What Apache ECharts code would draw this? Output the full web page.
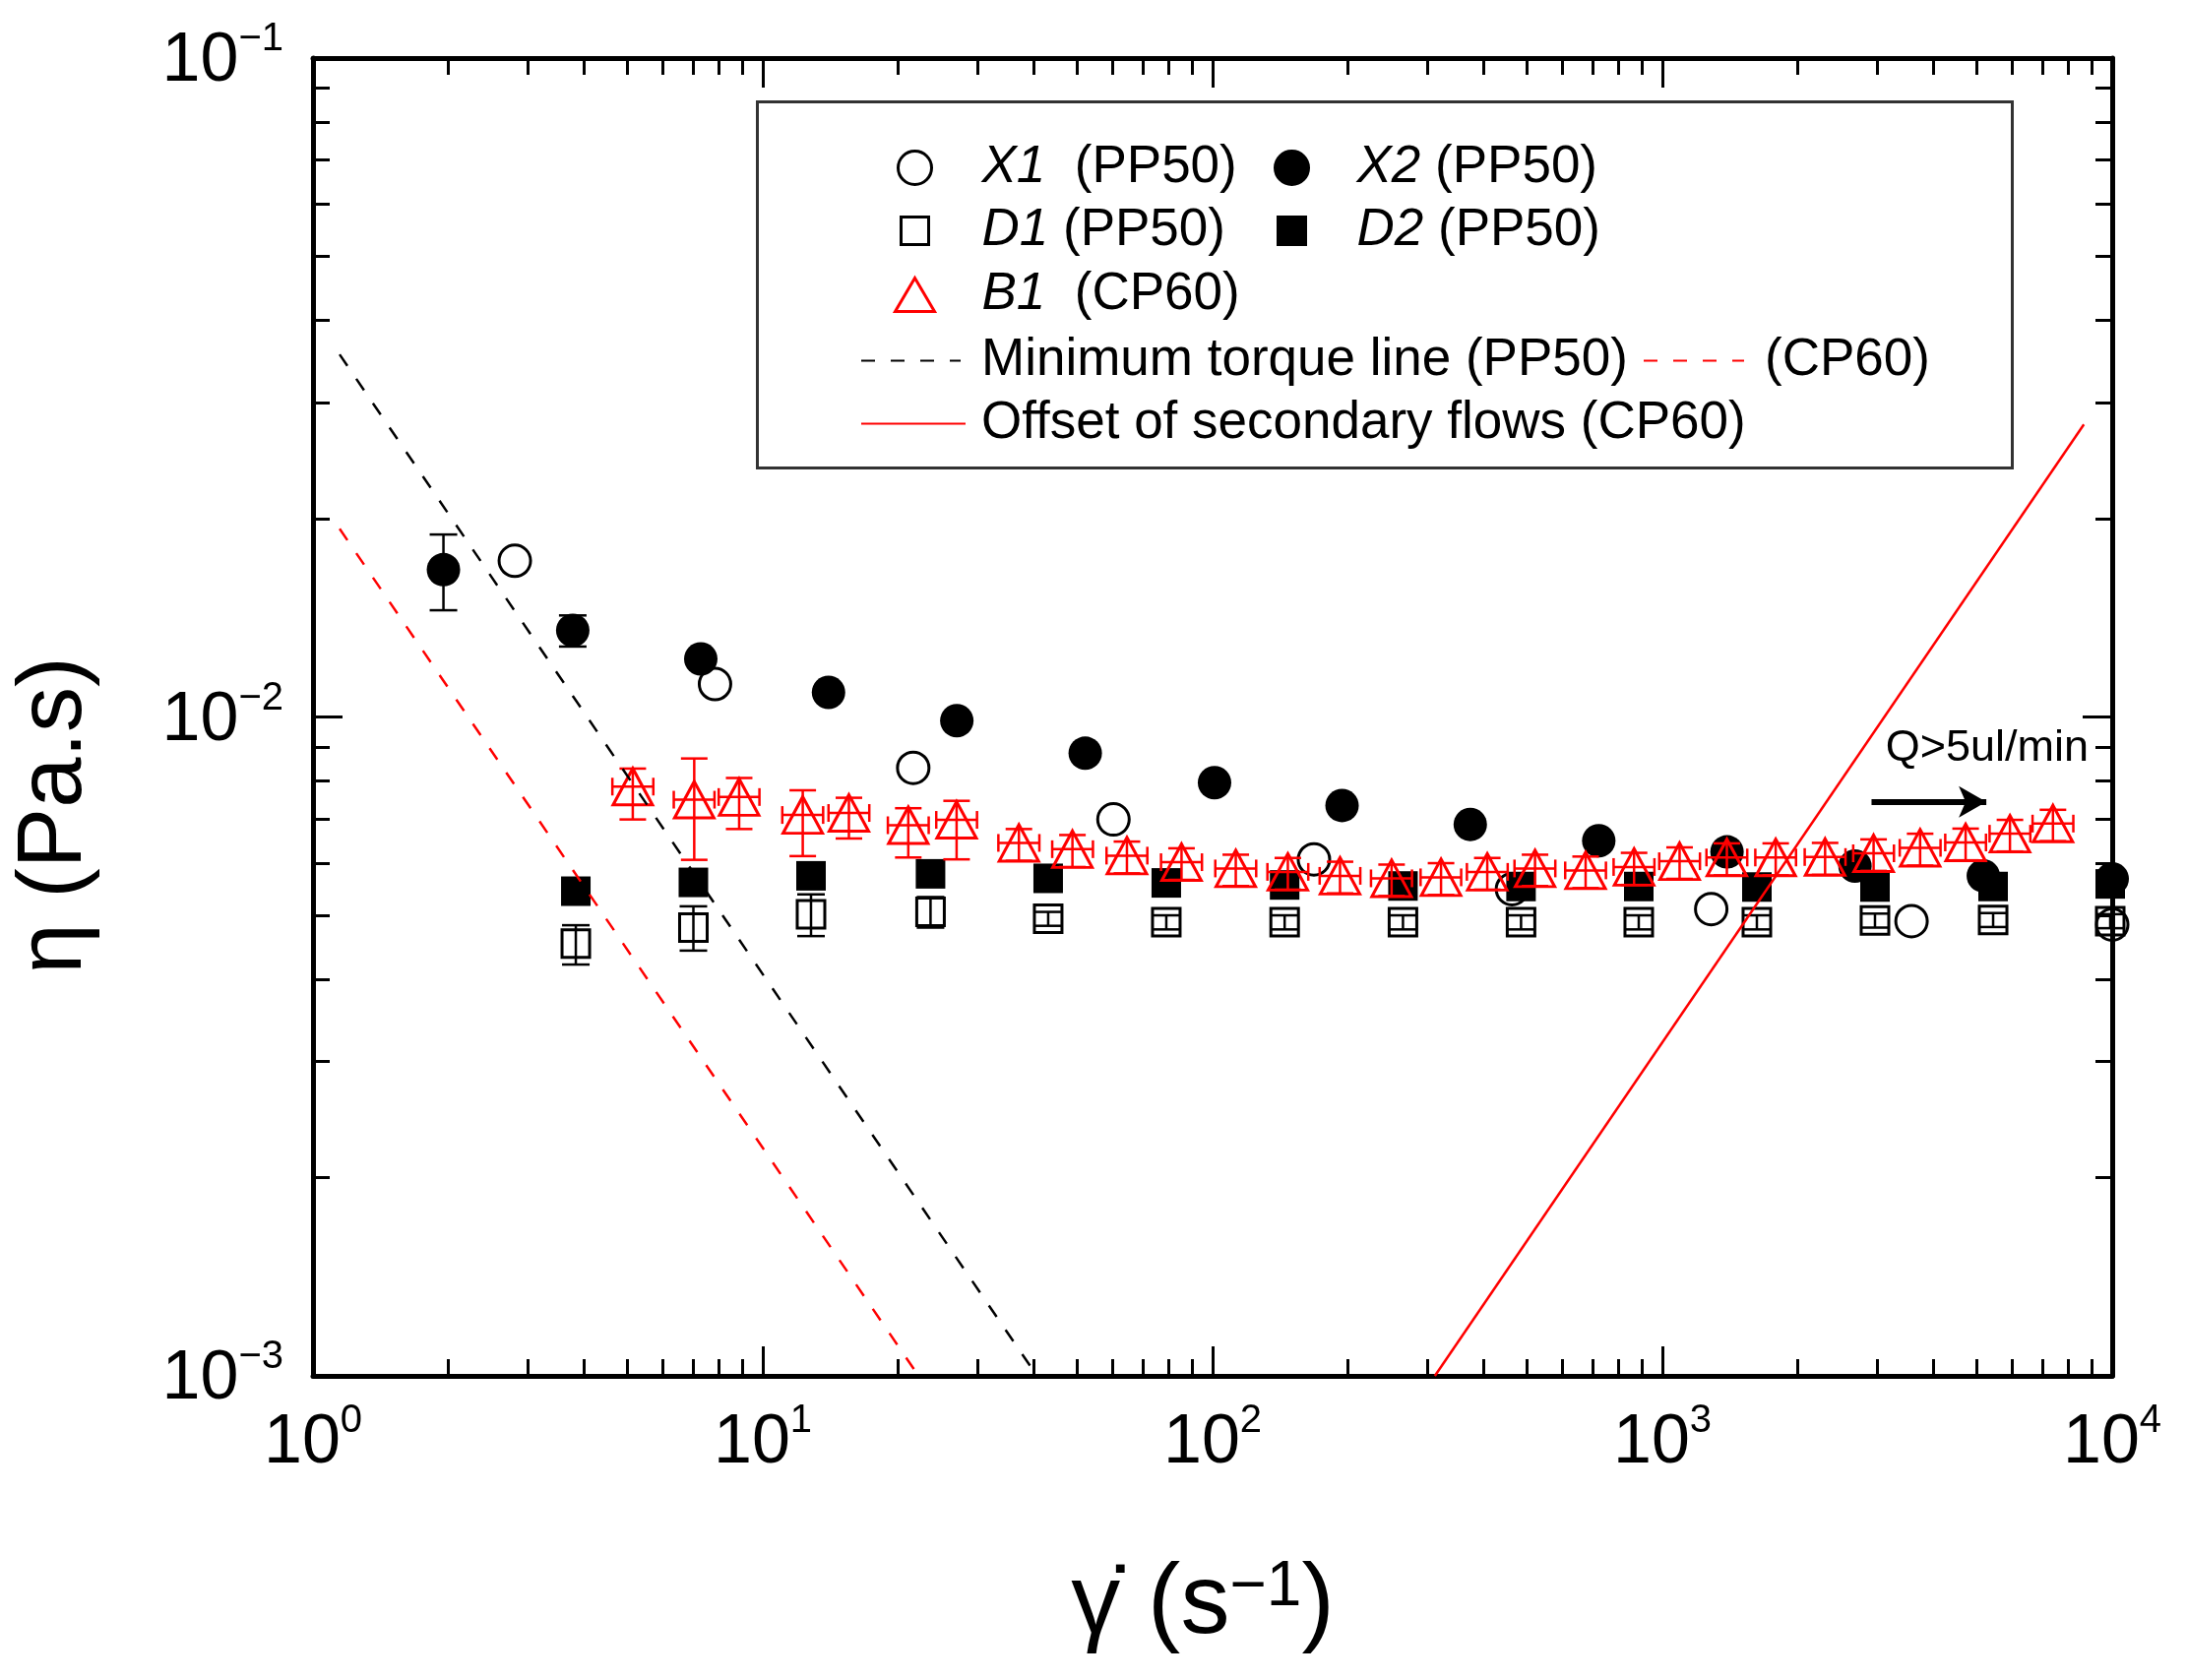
<!DOCTYPE html>
<html>
<head>
<meta charset="utf-8">
<title>viscosity vs shear rate</title>
<style>
html,body{margin:0;padding:0;background:#fff;}
#main{width:2222px;height:1707px;}
</style>
<script src="https://cdn.jsdelivr.net/npm/echarts@6.0.0/dist/echarts.min.js"></script>
</head>
<body>
<div id="main"></div>
<script>
var FONT = '"Liberation Sans", Arial, Helvetica, sans-serif';

// X1 (PP50) open circles
var x1Rate = [2.81, 7.83, 21.6, 60.2, 168, 463, 1284, 3580, 10000];
var x1Eta  = [0.01726, 0.01122, 0.00837, 0.00699, 0.00608, 0.00548, 0.00511, 0.0049, 0.00484];

// X2 (PP50) filled circles
var x2Rate = [1.95, 3.78, 7.28, 14.0, 27.0, 52.1, 101, 194, 374, 722, 1392, 2680, 5170, 10000];
var x2Eta  = [0.01673, 0.01353, 0.01225, 0.0109, 0.00987, 0.00881, 0.00795, 0.00734, 0.00687, 0.00649, 0.00624, 0.00594, 0.00574, 0.00568];
var x2Lo   = [0.01452, 0.01279, null, null, null, null, null, null, null, null, null, null, null, null];
var x2Hi   = [0.01892, 0.01426, null, null, null, null, null, null, null, null, null, null, null, null];

// D1 / D2 (PP50) squares, same shear rates
var dRate = [3.84, 7.01, 12.8, 23.6, 43.1, 78.9, 144.6, 265, 485, 886, 1622, 2969, 5436, 9900];
var d1Eta = [0.00453, 0.00479, 0.00502, 0.00506, 0.00494, 0.00488, 0.00488, 0.00488, 0.00488, 0.00488, 0.00488, 0.00491, 0.00492, 0.0049];
var d1Lo  = [0.00421, 0.00442, 0.00465, 0.00479, 0.00482, 0.00476, 0.00476, 0.00476, 0.00476, 0.00476, 0.00476, 0.00479, 0.0048, 0.00478];
var d1Hi  = [0.00483, 0.00516, 0.00538, 0.00533, 0.00506, 0.005, 0.005, 0.005, 0.005, 0.005, 0.005, 0.00503, 0.00504, 0.00502];
var d2Eta = [0.00544, 0.00561, 0.00574, 0.00578, 0.00569, 0.0056, 0.00556, 0.00554, 0.00553, 0.00553, 0.00552, 0.00552, 0.00553, 0.00558];

// B1 (CP60) red triangles with x and y error bars
var b1Rate = [5.14, 7.04, 8.86, 12.27, 15.54, 21.06, 26.97, 37.1, 48.8, 64.5, 85.3, 112.6, 147, 192, 250, 322, 408, 521, 675, 865, 1092, 1391, 1786, 2300, 2948, 3741, 4722, 5925, 7384];
var b1Eta  = [0.00784, 0.00749, 0.00756, 0.0071, 0.00715, 0.00685, 0.00698, 0.00644, 0.0063, 0.00616, 0.00602, 0.00589, 0.00582, 0.00574, 0.00569, 0.00571, 0.00582, 0.00589, 0.00585, 0.00592, 0.00604, 0.00612, 0.00612, 0.00613, 0.00621, 0.00633, 0.00645, 0.00665, 0.00689];
var b1Lo   = [0.00699, 0.00607, 0.00676, 0.00615, 0.00654, 0.00612, 0.00608, 0.00605, 0.00592, 0.00579, 0.00566, 0.00554, 0.00547, 0.0054, 0.00535, 0.00537, 0.00547, 0.00554, 0.0055, 0.00556, 0.00568, 0.00575, 0.00575, 0.00576, 0.00584, 0.00595, 0.00606, 0.00625, 0.00648];
var b1Hi   = [0.00835, 0.00865, 0.00808, 0.00774, 0.00754, 0.00727, 0.00746, 0.00676, 0.00662, 0.00647, 0.00632, 0.00618, 0.00611, 0.00603, 0.00597, 0.006, 0.00611, 0.00618, 0.00614, 0.00622, 0.00634, 0.00643, 0.00643, 0.00644, 0.00652, 0.00665, 0.00677, 0.00698, 0.00723];
var b1RateLo = [4.63, 6.34, 7.98, 11.05, 14.0, 18.97, 24.3, 33.4, 44.0, 58.1, 76.8, 101.4, 132.4, 173, 225, 290, 367.6, 469, 608, 779, 984, 1253, 1609, 2072, 2656, 3370, 4254, 5338, 6652];
var b1RateHi = [5.71, 7.81, 9.83, 13.62, 17.25, 23.38, 29.94, 41.2, 54.2, 71.6, 94.7, 125, 163.2, 213, 277.5, 357, 453, 578, 749, 960, 1212, 1544, 1982, 2553, 3272, 4153, 5241, 6577, 8196];

// reference lines (end points)
var torquePP50 = [[1.146, 0.0355], [40.7, 0.001]];
var torqueCP60 = [[1.146, 0.0193], [22.2, 0.001]];
var secondaryCP60 = [[312, 0.001], [8650, 0.0278]];

// annotation
var noteText = 'Q>5ul/min';
var notePos = [5272, 0.00897];
var arrowFrom = [2917, 0.00743];
var arrowTo = [5250, 0.00743];

// axis ticks
var xDecades = [0, 1, 2, 3];
var yDecades = [-3, -2];
var minorSteps = [2, 3, 4, 5, 6, 7, 8, 9];

function pairs(xs, ys) {
  var out = [];
  for (var i = 0; i < xs.length; i++) out.push([xs[i], ys[i]]);
  return out;
}
function minorTicks(decades) {
  var out = [];
  decades.forEach(function (d) {
    minorSteps.forEach(function (k) { out.push(d + Math.log10(k)); });
  });
  return out;
}
function powLabel(v) {
  var e = Math.round(Math.log10(v));
  var s = e < 0 ? '\u2212' + (-e) : '' + e;
  return '{b|10}{s|' + s + '}';
}
var labelRich = {
  b: {fontSize: 70, fontFamily: FONT, color: '#000', padding: [8, 0, 0, 0]},
  s: {fontSize: 40, fontFamily: FONT, color: '#000', verticalAlign: 'top'}
};

// error bar drawing
function yErrRender(color, capW) {
  return function (params, api) {
    var x = api.value(0);
    var a = api.coord([x, api.value(1)]);
    var b = api.coord([x, api.value(2)]);
    var h = capW / 2;
    var st = {stroke: color, lineWidth: 2.5};
    return {type: 'group', children: [
      {type: 'line', shape: {x1: a[0], y1: a[1], x2: b[0], y2: b[1]}, style: st},
      {type: 'line', shape: {x1: a[0] - h, y1: a[1], x2: a[0] + h, y2: a[1]}, style: st},
      {type: 'line', shape: {x1: b[0] - h, y1: b[1], x2: b[0] + h, y2: b[1]}, style: st}
    ]};
  };
}
function xyErrRender(color, capW, capH) {
  return function (params, api) {
    var x = api.value(0), y = api.value(1);
    var a = api.coord([x, api.value(2)]);
    var b = api.coord([x, api.value(3)]);
    var l = api.coord([api.value(4), y]);
    var r = api.coord([api.value(5), y]);
    var h = capW / 2, v = capH / 2;
    var st = {stroke: color, lineWidth: 2.5};
    return {type: 'group', children: [
      {type: 'line', shape: {x1: a[0], y1: a[1], x2: b[0], y2: b[1]}, style: st},
      {type: 'line', shape: {x1: a[0] - h, y1: a[1], x2: a[0] + h, y2: a[1]}, style: st},
      {type: 'line', shape: {x1: b[0] - h, y1: b[1], x2: b[0] + h, y2: b[1]}, style: st},
      {type: 'line', shape: {x1: l[0], y1: l[1], x2: r[0], y2: r[1]}, style: st},
      {type: 'line', shape: {x1: l[0], y1: l[1] - v, x2: l[0], y2: l[1] + v}, style: st},
      {type: 'line', shape: {x1: r[0], y1: r[1] - v, x2: r[0], y2: r[1] + v}, style: st}
    ]};
  };
}

var x2Err = [], d1Err = [], b1Err = [];
for (var i = 0; i < x2Rate.length; i++) {
  if (x2Lo[i] != null) x2Err.push([x2Rate[i], x2Lo[i], x2Hi[i]]);
}
for (var i = 0; i < dRate.length; i++) d1Err.push([dRate[i], d1Lo[i], d1Hi[i]]);
for (var i = 0; i < b1Rate.length; i++) {
  b1Err.push([b1Rate[i], b1Eta[i], b1Lo[i], b1Hi[i], b1RateLo[i], b1RateHi[i]]);
}

var legendNames = {
  'X1': '{i|X1}  (PP50)',
  'X2': '{i|X2} (PP50)',
  'D1': '{i|D1} (PP50)',
  'D2': '{i|D2} (PP50)',
  'B1': '{i|B1}  (CP60)',
  'torquePP50': 'Minimum torque line (PP50)',
  'torqueCP60': '(CP60)',
  'secondary': 'Offset of secondary flows (CP60)'
};
// one legend per entry so each icon and text sits where it does in the figure
function legendItem(name, left, rowY, w, h, textPad, lineItem) {
  return {
    orient: 'vertical', padding: 0, left: left, top: rowY - 23,
    itemWidth: w, itemHeight: h, selectedMode: false, data: [name],
    formatter: function (n) { return legendNames[n]; },
    itemStyle: lineItem ? {color: 'rgba(0,0,0,0)', borderColor: 'rgba(0,0,0,0)', borderWidth: 0} : {borderWidth: 3},
    textStyle: {
      fontSize: 53, fontFamily: FONT, color: '#000', lineHeight: 53, padding: [0, 0, 0, textPad],
      rich: {i: {fontSize: 53, fontFamily: FONT, fontStyle: 'italic', color: '#000', lineHeight: 53}}
    }
  };
}

var axisLineStyle = {show: true, onZero: false, lineStyle: {color: '#000', width: 5}};
var majorTick = {show: true, inside: true, length: 30, lineStyle: {color: '#000', width: 3}};
function minorAxis(pos, lo, hi, decades) {
  return {
    type: 'value', min: lo, max: hi, position: pos,
    axisLine: {show: false, onZero: false}, splitLine: {show: false}, axisLabel: {show: false},
    axisTick: {show: true, inside: true, length: 17, lineStyle: {color: '#000', width: 3}, customValues: minorTicks(decades)}
  };
}

var chart = echarts.init(document.getElementById('main'));
var option = {
  backgroundColor: '#fff',
  animation: false,
  grid: {left: 318, right: 76, top: 59, bottom: 309, containLabel: false, outerBoundsMode: 'none'},
  xAxis: [
    {
      type: 'log', logBase: 10, min: 1, max: 10000, position: 'bottom',
      axisLine: axisLineStyle, axisTick: majorTick, splitLine: {show: false},
      axisLabel: {margin: 26, formatter: powLabel, rich: labelRich},
      name: '{g|\u03b3\u0307}{p| (s}{s|\u22121}{p|)}',
      nameLocation: 'middle', nameGap: 183,
      nameTextStyle: {
        padding: [0, 20, 0, 0],
        rich: {
          g: {fontSize: 100, fontFamily: FONT, color: '#000'},
          p: {fontSize: 100, fontFamily: FONT, color: '#000'},
          s: {fontSize: 64, fontFamily: FONT, color: '#000', verticalAlign: 'top'}
        }
      }
    },
    {
      type: 'log', logBase: 10, min: 1, max: 10000, position: 'top',
      axisLine: axisLineStyle, axisTick: majorTick, splitLine: {show: false},
      axisLabel: {show: false}
    },
    minorAxis('bottom', 0, 4, xDecades),
    minorAxis('top', 0, 4, xDecades)
  ],
  yAxis: [
    {
      type: 'log', logBase: 10, min: 0.001, max: 0.1, position: 'left',
      axisLine: axisLineStyle, axisTick: majorTick, splitLine: {show: false},
      axisLabel: {margin: 30, formatter: powLabel, rich: labelRich},
      name: '\u03b7 (Pa.s)', nameLocation: 'middle', nameGap: 215, nameRotate: 90,
      nameTextStyle: {fontSize: 92, fontFamily: FONT, color: '#000', padding: [0, 200, 0, 0]}
    },
    {
      type: 'log', logBase: 10, min: 0.001, max: 0.1, position: 'right',
      axisLine: axisLineStyle, axisTick: majorTick, splitLine: {show: false},
      axisLabel: {show: false}
    },
    minorAxis('left', -3, -1, yDecades),
    minorAxis('right', -3, -1, yDecades)
  ],
  legend: [
    legendItem('X1', 911, 167, 34, 34, 46, false),
    legendItem('D1', 914, 231, 28, 28, 49, false),
    legendItem('B1', 908, 296, 40, 34, 43, false),
    legendItem('X2', 1294, 167, 34, 34, 44, false),
    legendItem('D2', 1297, 231, 28, 28, 47, false),
    legendItem('torquePP50', 874, 363, 101, 34, 16, true),
    legendItem('torqueCP60', 1669, 363, 102, 34, 16, true),
    legendItem('secondary', 874, 427, 106, 34, 11, true)
  ],
  graphic: [
    {type: 'rect', left: 767, top: 101, shape: {width: 1275, height: 372},
      style: {fill: 'none', stroke: '#333', lineWidth: 3}, z: 0, silent: true}
  ],
  series: [
    {type: 'custom', name: 'd1err', renderItem: yErrRender('#000', 28), data: d1Err,
      encode: {x: 0, y: 1}, z: 2, silent: true},
    {type: 'scatter', name: 'D1', data: pairs(dRate, d1Eta), symbol: 'rect', symbolSize: 28,
      itemStyle: {color: 'rgba(0,0,0,0)', borderColor: '#000', borderWidth: 3, opacity: 1}, z: 3},
    {type: 'scatter', name: 'D2', data: pairs(dRate, d2Eta), symbol: 'rect', symbolSize: 30,
      itemStyle: {color: '#000', borderColor: '#000', borderWidth: 0, opacity: 1}, z: 3},
    {type: 'scatter', name: 'X1', data: pairs(x1Rate, x1Eta), symbol: 'circle', symbolSize: 32,
      itemStyle: {color: 'rgba(0,0,0,0)', borderColor: '#000', borderWidth: 3, opacity: 1}, z: 4},
    {type: 'custom', name: 'x2err', renderItem: yErrRender('#000', 28), data: x2Err,
      encode: {x: 0, y: 1}, z: 4, silent: true},
    {type: 'scatter', name: 'X2', data: pairs(x2Rate, x2Eta), symbol: 'circle', symbolSize: 34,
      itemStyle: {color: '#000', borderColor: '#000', borderWidth: 0, opacity: 1}, z: 4},
    {type: 'custom', name: 'b1err', renderItem: xyErrRender('#ff0000', 27, 18), data: b1Err,
      encode: {x: 0, y: 1}, z: 5, silent: true},
    {type: 'scatter', name: 'B1', data: pairs(b1Rate, b1Eta), symbol: 'triangle', symbolSize: [40, 37],
      itemStyle: {color: 'rgba(0,0,0,0)', borderColor: '#ff0000', borderWidth: 3, opacity: 1}, z: 5},
    {type: 'line', name: 'torquePP50', data: torquePP50, symbol: 'none', z: 6,
      lineStyle: {color: '#000', width: 2.5, type: [14, 16]}, itemStyle: {color: 'rgba(0,0,0,0)'}},
    {type: 'line', name: 'torqueCP60', data: torqueCP60, symbol: 'none', z: 6,
      lineStyle: {color: '#ff0000', width: 2.5, type: [14, 16]}, itemStyle: {color: 'rgba(0,0,0,0)'}},
    {type: 'line', name: 'secondary', data: secondaryCP60, symbol: 'none', z: 6,
      lineStyle: {color: '#ff0000', width: 2.5}, itemStyle: {color: 'rgba(0,0,0,0)'}},
    {type: 'line', name: 'arrow', data: [], z: 7, silent: true,
      markLine: {silent: true, symbol: ['none', 'arrow'], symbolSize: [24, 28],
        label: {show: false}, lineStyle: {color: '#000', width: 6, type: 'solid'},
        data: [[{coord: arrowFrom}, {coord: arrowTo}]]}},
    {type: 'scatter', name: 'note', data: [notePos], symbolSize: 1, z: 7, silent: true,
      itemStyle: {color: 'rgba(0,0,0,0)', opacity: 1},
      label: {show: true, position: 'inside', formatter: noteText, fontSize: 45, fontFamily: FONT, color: '#000'}}
  ]
};
chart.setOption(option);
</script>
</body>
</html>
